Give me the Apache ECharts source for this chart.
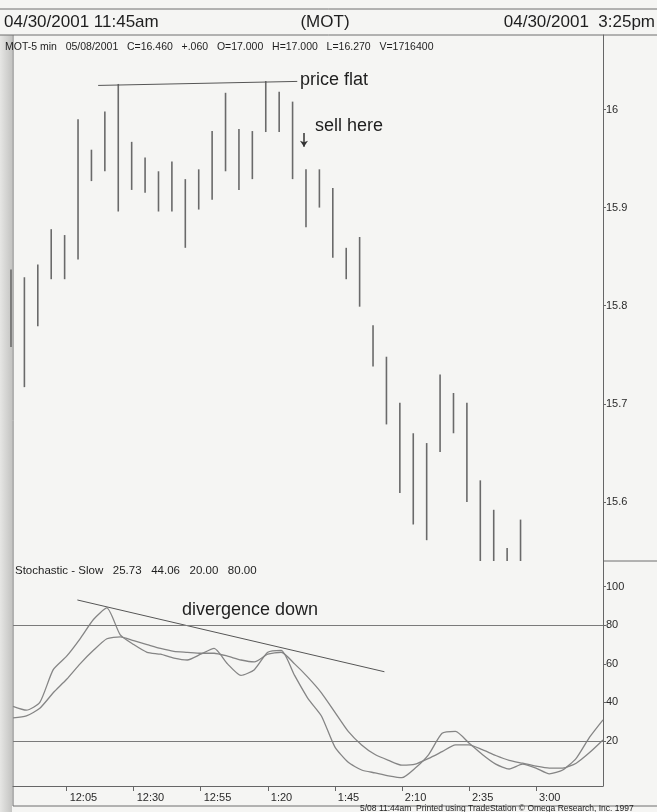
<!DOCTYPE html>
<html>
<head>
<meta charset="utf-8">
<title>MOT 5 min - Stochastic Slow</title>
<script src="https://cdn.jsdelivr.net/npm/echarts@6.0.0/dist/echarts.min.js"></script>
<style>
  html, body { margin: 0; padding: 0; background: #f5f5f3; }
  #chart { width: 657px; height: 812px; }
</style>
</head>
<body>
<div id="chart"></div>
<script>
// 5 min bars from 11:45am to 3:25pm (45 bars), last ones are below the visible price range
const barHigh = [15.837, 15.829, 15.842, 15.878, 15.872, 15.990, 15.959, 15.998, 16.026, 15.967,
  15.951, 15.937, 15.947, 15.929, 15.939, 15.978, 16.017, 15.980, 15.978, 16.029,
  16.018, 16.008, 15.939, 15.939, 15.920, 15.859, 15.870, 15.780, 15.748, 15.701,
  15.670, 15.660, 15.730, 15.711, 15.701, 15.622, 15.592, 15.553, 15.582,
  null, null, null, null, null, null];
const barLow = [15.758, 15.717, 15.779, 15.827, 15.827, 15.847, 15.927, 15.937, 15.896, 15.918,
  15.915, 15.896, 15.896, 15.859, 15.898, 15.908, 15.937, 15.918, 15.929, 15.977,
  15.977, 15.929, 15.880, 15.900, 15.849, 15.827, 15.799, 15.738, 15.679, 15.609,
  15.577, 15.561, 15.651, 15.670, 15.600, 15.52, 15.51, 15.50, 15.50,
  null, null, null, null, null, null];

// stochastic slow, two lines
const stochK = [38, 36, 40, 57, 64, 73, 83, 89, 75, 70,
  66, 65, 63, 62, 65, 68, 60, 54, 57, 66,
  67, 54, 42, 33, 17, 9, 5, 3.5, 2, 1,
  6, 13, 24, 25, 19, 13, 8, 5.5, 8, 6,
  3, 5, 11, 22, 31];
const stochD = [32, 33, 37, 45, 52, 60, 67, 73, 74, 72,
  70, 68, 66.5, 66, 65.5, 65.5, 64, 62, 61, 65,
  66, 60, 53, 45, 35, 25, 18, 13, 10, 7.5,
  8, 11, 14.5, 18, 18, 15.5, 12.5, 10, 8.5, 7,
  6, 6, 8.5, 14, 20.5];

const timeLabels = ['12:05', '12:30', '12:55', '1:20', '1:45', '2:10', '2:35', '3:00'];
const timeLabelBars = [4, 9, 14, 19, 24, 29, 34, 39];
const priceTicks = [15.6, 15.7, 15.8, 15.9, 16];
const stochTicks = [20, 40, 60, 80, 100];
const stochLevels = [80, 20];

// annotations, in [bar index, value]
const flatLine = [[6.5, 16.0245], [21.35, 16.0286]];
const sellArrow = [[21.85, 15.976], [21.85, 15.962]];
const divergenceLine = [[4.8, 93.1], [27.7, 55.9]];

const font = "'Liberation Sans', Arial, sans-serif";
const chart = echarts.init(document.getElementById('chart'));

const bars = [];
barHigh.forEach((h, i) => {
  if (h != null) bars.push([i, h, barLow[i]]);
});

function renderBar(params, api) {
  const cs = params.coordSys;
  const hi = api.coord([api.value(0), api.value(1)]);
  const lo = api.coord([api.value(0), api.value(2)]);
  const y1 = Math.max(hi[1], cs.y);
  const y2 = Math.min(lo[1], cs.y + cs.height);
  if (y1 >= y2) return null;
  return {
    type: 'line',
    shape: { x1: hi[0], y1: y1, x2: hi[0], y2: y2 },
    style: { stroke: '#6a6a6a', lineWidth: 1.6 }
  };
}

function txt(x, y, text, size, align) {
  return {
    type: 'text', x: x, y: y,
    style: { text: text, font: size + 'px ' + font, fill: '#1e1e1e', textAlign: align || 'left', textVerticalAlign: 'middle' }
  };
}
function ln(x1, y1, x2, y2) {
  return { type: 'line', shape: { x1: x1, y1: y1, x2: x2, y2: y2 }, style: { stroke: '#6e6e6e', lineWidth: 1 } };
}

const axisLabelStyle = { fontSize: 11, color: '#2a2a2a', fontFamily: font };

chart.setOption({
  animation: false,
  backgroundColor: 'transparent',
  grid: [
    { left: 13, right: 54, top: 35, height: 526 },
    { left: 13, right: 54, top: 561, height: 225 }
  ],
  xAxis: [
    { gridIndex: 0, type: 'value', min: 0.15, max: 44.15, show: false },
    {
      gridIndex: 1, type: 'value', min: 0, max: 44,
      axisLine: { show: true, onZero: false, lineStyle: { color: '#666', width: 1 } },
      axisTick: { show: true, customValues: timeLabelBars, length: 5, lineStyle: { color: '#666' } },
      axisLabel: Object.assign({
        customValues: timeLabelBars,
        formatter: v => timeLabels[timeLabelBars.indexOf(v)],
        align: 'left', padding: [0, 0, 0, 3], margin: 6
      }, axisLabelStyle),
      splitLine: { show: false }
    }
  ],
  yAxis: [
    {
      gridIndex: 0, type: 'value', position: 'right', min: 15.5398, max: 16.0759,
      axisLine: { show: true, onZero: false, lineStyle: { color: '#666', width: 1 } },
      axisTick: { show: true, customValues: priceTicks, length: 3, lineStyle: { color: '#666' } },
      axisLabel: Object.assign({
        customValues: priceTicks,
        formatter: v => String(+v.toFixed(1)),
        margin: 3
      }, axisLabelStyle),
      splitLine: { show: false }
    },
    {
      gridIndex: 1, type: 'value', position: 'right', min: -3.3, max: 113.3,
      axisLine: { show: true, onZero: false, lineStyle: { color: '#666', width: 1 } },
      axisTick: { show: true, customValues: stochTicks, length: 3, lineStyle: { color: '#666' } },
      axisLabel: Object.assign({ customValues: stochTicks, margin: 3 }, axisLabelStyle),
      splitLine: { show: false }
    }
  ],
  series: [
    {
      type: 'custom', name: 'MOT', xAxisIndex: 0, yAxisIndex: 0,
      renderItem: renderBar, data: bars, silent: true
    },
    {
      type: 'line', xAxisIndex: 0, yAxisIndex: 0, data: flatLine,
      symbol: 'none', silent: true,
      lineStyle: { color: '#555', width: 1 },
      markLine: {
        silent: true, symbol: ['none', 'arrow'], symbolSize: 6, label: { show: false },
        lineStyle: { color: '#333', width: 1.5, type: 'solid' },
        data: [[{ coord: sellArrow[0] }, { coord: sellArrow[1] }]]
      }
    },
    {
      type: 'line', name: '%K', xAxisIndex: 1, yAxisIndex: 1,
      data: stochK.map((v, i) => [i, v]),
      symbol: 'none', smooth: 0.2, silent: true,
      lineStyle: { color: '#858585', width: 1.3 }
    },
    {
      type: 'line', name: '%D', xAxisIndex: 1, yAxisIndex: 1,
      data: stochD.map((v, i) => [i, v]),
      symbol: 'none', smooth: 0.2, silent: true,
      lineStyle: { color: '#858585', width: 1.3 },
      markLine: {
        silent: true, symbol: 'none', label: { show: false },
        lineStyle: { color: '#7a7a7a', width: 1, type: 'solid' },
        data: stochLevels.map(v => ({ yAxis: v }))
      }
    },
    {
      type: 'line', xAxisIndex: 1, yAxisIndex: 1, data: divergenceLine,
      symbol: 'none', silent: true,
      lineStyle: { color: '#555', width: 1 }
    }
  ],
  graphic: [
    {
      type: 'rect', z: -10, shape: { x: 0, y: 35, width: 12, height: 777 },
      style: { fill: new echarts.graphic.LinearGradient(0, 0, 1, 0, [
        { offset: 0, color: '#e6e6e4' }, { offset: 1, color: '#c4c4c2' }]) }
    },
    ln(0, 9, 657, 9),
    ln(0, 35, 657, 35),
    ln(13, 35, 13, 806),
    ln(603, 561, 657, 561),
    ln(13, 806, 657, 806),
    txt(4, 22, '04/30/2001 11:45am', 17),
    txt(325, 22, '(MOT)', 17, 'center'),
    txt(655, 22, '04/30/2001  3:25pm', 17, 'right'),
    txt(5, 47, 'MOT-5 min   05/08/2001   C=16.460   +.060   O=17.000   H=17.000   L=16.270   V=1716400', 10.5),
    txt(15, 571, 'Stochastic - Slow   25.73   44.06   20.00   80.00', 11.5),
    txt(300, 80, 'price flat', 18),
    txt(315, 126, 'sell here', 18),
    txt(182, 610, 'divergence down', 18),
    txt(360, 809, '5/08 11:44am  Printed using TradeStation \u00a9 Omega Research, Inc. 1997', 8.5)
  ]
});
</script>
</body>
</html>
